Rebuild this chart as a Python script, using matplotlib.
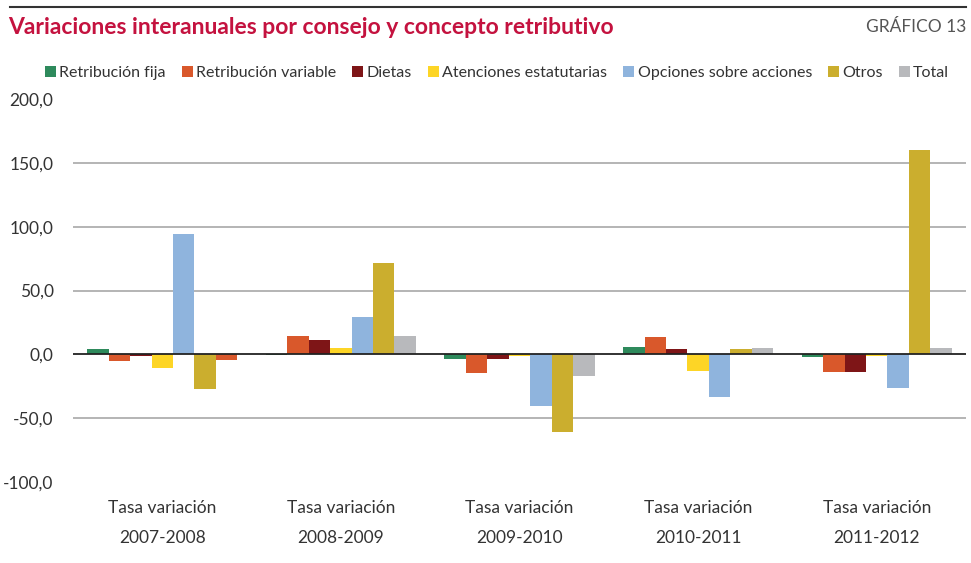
import matplotlib
matplotlib.use("Agg")
import matplotlib.pyplot as plt
from matplotlib.patches import Patch
import numpy as np

# ---- data ----
categories = ["Tasa variación\n2007-2008", "Tasa variación\n2008-2009", "Tasa variación\n2009-2010",
              "Tasa variación\n2010-2011", "Tasa variación\n2011-2012"]
series_names = ["Retribución fija", "Retribución variable", "Dietas", "Atenciones estatutarias",
                "Opciones sobre acciones", "Otros", "Total"]
retribucion_fija = [4.0, -0.8, -4.0, 6.0, -2.0]
retribucion_variable = [-5.5, 14.0, -14.4, 13.3, -13.6]
dietas = [-1.0, 11.5, -4.0, 4.0, -13.6]
atenciones_estatutarias = [-11.0, 5.3, -1.0, -12.9, -1.5]
opciones_acciones = [94.5, 29.0, -40.5, -33.8, -26.7]
otros = [-27.5, 71.2, -61.0, 4.0, 160.0]
total = [-4.5, 14.0, -17.0, 4.7, 4.7]
series = [retribucion_fija, retribucion_variable, dietas, atenciones_estatutarias,
          opciones_acciones, otros, total]
yticks = [-100, -50, 0, 50, 100, 150, 200]

colors = ["#2e8a5c", "#d9582b", "#7e1517", "#fdd526", "#8fb4dd", "#cbae2e", "#b8b9bc"]

# ---- figure ----
W, H = 971, 563
fig = plt.figure(figsize=(W / 100, H / 100), dpi=100)
plt.rcParams['font.family'] = ['Lato', 'DejaVu Sans']

left, right, top, bottom = 73, 966, 99, 482
ax = fig.add_axes([left / W, 1 - bottom / H, (right - left) / W, (bottom - top) / H])

x = np.arange(len(categories))
bw = 0.12
for i, (name, vals, c) in enumerate(zip(series_names, series, colors)):
    bar_colors = [c] * len(vals)
    if name == "Total":
        bar_colors[0] = "#d9582b"  # as drawn in the reference
    ax.bar(x + (i - 3) * bw, vals, width=bw, color=bar_colors, zorder=3, linewidth=0)

ax.set_xlim(-0.5, len(categories) - 0.5)
ax.set_ylim(-100, 200)
ax.set_yticks(yticks)
ax.set_yticklabels([f"{v:.1f}".replace(".", ",") for v in yticks])
for v in yticks[1:-1]:
    if v == 0:
        continue
    ax.axhline(v, color="#a0a0a0", lw=1.1, zorder=1)
ax.axhline(0, color="#222222", lw=1.3, zorder=4)

for s in ax.spines.values():
    s.set_visible(False)
ax.set_xticks(x)
ax.set_xticklabels(categories, linespacing=2.1)
ax.tick_params(axis="x", length=0, pad=13, labelsize=12.5, labelcolor="#333333")
ax.tick_params(axis="y", length=0, pad=14, labelsize=12.5, labelcolor="#333333")

# title / header
fig.add_artist(plt.Line2D([10 / W, 966 / W], [1 - 7 / H, 1 - 7 / H], color="#333333", lw=1.5))
fig.text(8 / W, 1 - 27 / H, "Variaciones interanuales por consejo y concepto retributivo",
         color="#c4123f", fontsize=16.5, fontweight="bold", va="center", ha="left")
fig.text(966 / W, 1 - 27 / H, "GRÁFICO 13", color="#555555", fontsize=12.5,
         va="center", ha="right")

handles = [Patch(facecolor=c, edgecolor="none") for c in colors]
leg = fig.legend(handles, series_names, loc="center", bbox_to_anchor=(497 / W, 1 - 73 / H),
                 ncol=7, frameon=False, handlelength=0.7, handleheight=0.7,
                 handletextpad=0.2, columnspacing=1.0, fontsize=11.5, labelcolor="#333333")

fig.savefig("out.png", dpi=100, facecolor="white")
